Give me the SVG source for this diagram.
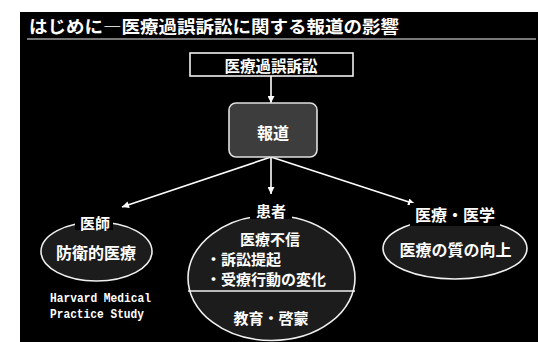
<svg xmlns="http://www.w3.org/2000/svg" width="538" height="342" viewBox="0 0 538 342">
<defs>
<marker id="ah" viewBox="0 0 10 10" refX="10" refY="5" markerWidth="9" markerHeight="7" markerUnits="userSpaceOnUse" orient="auto">
<path d="M0,0 L10,5 L0,10 z" fill="#ffffff"/>
</marker>
</defs>
<style>
.t{font-family:"Noto Sans CJK JP","Noto Sans CJK SC",sans-serif;font-weight:bold;fill:#ffffff;text-anchor:middle;dominant-baseline:central}
.l{text-anchor:start}
.m{font-family:"Liberation Mono","DejaVu Sans Mono",monospace;font-weight:bold;fill:#ffffff;font-size:13px}
.ell{fill:#1c1c1c;stroke:#f0f0f0;stroke-width:1.6}
.lb{fill:#000000}
.cn{stroke:#ffffff;stroke-width:1.6;fill:none;marker-end:url(#ah)}
</style>
<rect x="0" y="0" width="538" height="342" fill="#ffffff"/>
<rect x="20" y="12" width="518" height="330" fill="#000000"/>
<g id="title">
<text class="t l" x="29" y="25" font-size="17.5" textLength="370" lengthAdjust="spacingAndGlyphs">はじめに―医療過誤訴訟に関する報道の影響</text>
<line x1="27" y1="39" x2="536" y2="39" stroke="#a0a0a0" stroke-width="1.5"/>
</g>
<g id="connectors">
<line class="cn" x1="271" y1="76" x2="271" y2="103"/>
<line class="cn" x1="271" y1="157" x2="122" y2="207"/>
<line class="cn" x1="271" y1="157" x2="271" y2="194"/>
<line class="cn" x1="271" y1="157" x2="415" y2="204"/>
</g>
<g id="lawsuit">
<rect x="190" y="53" width="163" height="23" fill="#000000" stroke="#f0f0f0" stroke-width="1.6"/>
<text class="t" x="271" y="65" font-size="15.5">医療過誤訴訟</text>
</g>
<g id="report">
<rect x="229" y="103" width="88" height="54" rx="7" fill="#3d3d3d" stroke="#e0e0e0" stroke-width="1.6"/>
<text class="t" x="273" y="132" font-size="16">報道</text>
</g>
<g id="doctor">
<ellipse class="ell" cx="96.5" cy="251.5" rx="55.5" ry="29.5"/>
<rect class="lb" x="75" y="213" width="38" height="17"/>
<text class="t" x="95" y="222" font-size="15">医師</text>
<text class="t" x="96" y="252" font-size="16">防衛的医療</text>
<text class="m" x="50" y="302" textLength="101" lengthAdjust="spacingAndGlyphs">Harvard Medical</text>
<text class="m" x="50" y="318" textLength="94" lengthAdjust="spacingAndGlyphs">Practice Study</text>
</g>
<g id="patient">
<ellipse class="ell" cx="271.5" cy="278" rx="83.5" ry="62.5"/>
<line x1="188" y1="291" x2="355" y2="291" stroke="#f0f0f0" stroke-width="1.6"/>
<rect class="lb" x="250" y="202" width="42" height="17"/>
<text class="t" x="271" y="210" font-size="15">患者</text>
<text class="t" x="270" y="238" font-size="15">医療不信</text>
<text class="t l" x="206" y="258" font-size="15">・訴訟提起</text>
<text class="t l" x="206" y="278" font-size="15">・受療行動の変化</text>
<text class="t" x="271" y="317" font-size="15">教育・啓蒙</text>
</g>
<g id="medicine">
<ellipse class="ell" cx="455" cy="248.5" rx="72" ry="30.5"/>
<rect class="lb" x="410" y="203" width="90" height="23"/>
<text class="t" x="455" y="214" font-size="16">医療・医学</text>
<text class="t" x="455.5" y="249" font-size="16">医療の質の向上</text>
</g>
</svg>
